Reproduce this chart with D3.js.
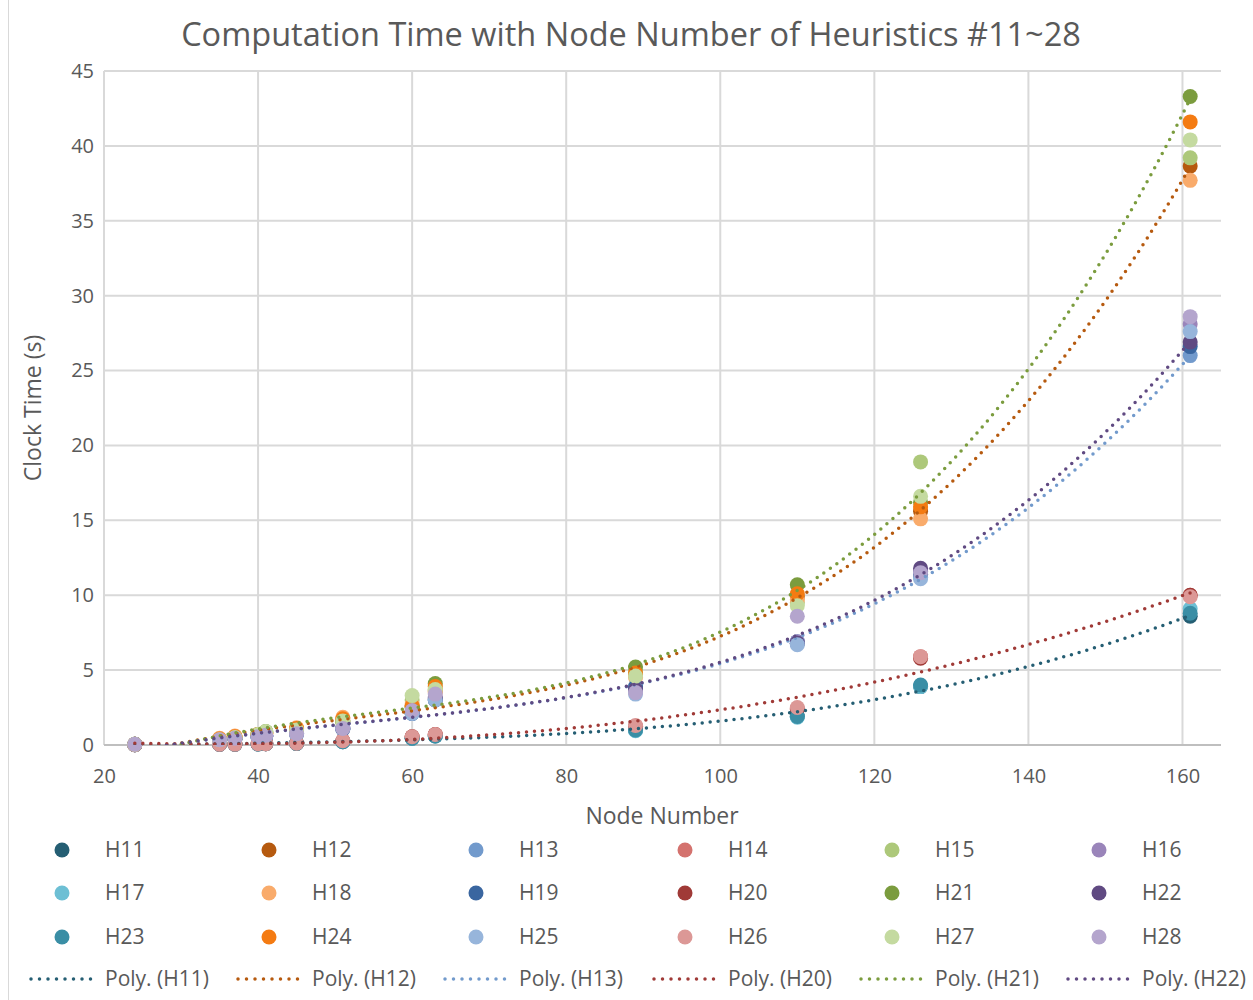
<!DOCTYPE html>
<html><head><meta charset="utf-8">
<script src="https://cdn.jsdelivr.net/npm/d3@7"></script>
<style>body{margin:0;background:#fff}svg{display:block}text{font-family:"Open Sans",sans-serif;fill:#595959}</style>
</head><body><svg id="c" width="1253" height="1000"></svg>
<script>
const nodeNumbers = [24, 35, 37, 40, 41, 45, 51, 60, 63, 89, 110, 126, 161];
const seriesNames = ["H11","H12","H13","H14","H15","H16","H17","H18","H19","H20","H21","H22","H23","H24","H25","H26","H27","H28"];
const H11 = [0.02, 0.05, 0.06, 0.07, 0.08, 0.1, 0.22, 0.45, 0.6, 1.0, 1.9, 3.9, 8.6];
const H12 = [0.05, 0.35, 0.5, 0.65, 0.75, 1.0, 1.6, 2.6, 3.6, 4.7, 9.9, 15.6, 38.65];
const H13 = [0.05, 0.3, 0.45, 0.5, 0.6, 0.75, 1.1, 2.1, 3.0, 3.8, 6.9, 11.2, 26.0];
const H14 = [0.02, 0.05, 0.06, 0.08, 0.09, 0.12, 0.28, 0.55, 0.7, 1.25, 2.4, 5.9, 10.0];
const H15 = [0.05, 0.3, 0.5, 0.7, 0.85, 1.0, 1.5, 3.0, 3.7, 4.9, 9.5, 18.9, 39.2];
const H16 = [0.05, 0.3, 0.45, 0.55, 0.6, 0.8, 1.1, 2.2, 3.2, 3.6, 6.9, 11.6, 28.1];
const H17 = [0.02, 0.05, 0.06, 0.07, 0.08, 0.1, 0.22, 0.45, 0.6, 0.95, 1.85, 3.9, 9.1];
const H18 = [0.05, 0.45, 0.6, 0.7, 0.8, 1.15, 1.85, 2.7, 3.5, 4.5, 9.7, 15.1, 37.7];
const H19 = [0.05, 0.3, 0.4, 0.5, 0.6, 0.75, 1.05, 2.1, 3.0, 3.9, 6.8, 11.4, 26.6];
const H20 = [0.02, 0.05, 0.06, 0.08, 0.09, 0.12, 0.27, 0.55, 0.7, 1.25, 2.4, 5.8, 10.0];
const H21 = [0.05, 0.3, 0.45, 0.7, 0.9, 1.0, 1.6, 2.5, 4.1, 5.2, 10.7, 16.2, 43.3];
const H22 = [0.05, 0.3, 0.45, 0.55, 0.6, 0.8, 1.1, 2.2, 3.1, 3.7, 6.8, 11.8, 26.9];
const H23 = [0.02, 0.05, 0.06, 0.07, 0.08, 0.1, 0.22, 0.45, 0.6, 1.0, 1.9, 4.0, 8.8];
const H24 = [0.05, 0.4, 0.55, 0.7, 0.8, 1.1, 1.75, 2.6, 3.9, 4.8, 10.1, 15.9, 41.6];
const H25 = [0.05, 0.3, 0.45, 0.5, 0.6, 0.75, 1.1, 2.1, 3.0, 3.4, 6.7, 11.1, 27.6];
const H26 = [0.02, 0.05, 0.06, 0.08, 0.09, 0.12, 0.28, 0.55, 0.7, 1.3, 2.5, 5.9, 9.9];
const H27 = [0.05, 0.35, 0.5, 0.7, 0.9, 1.0, 1.6, 3.3, 3.7, 4.6, 9.3, 16.6, 40.4];
const H28 = [0.05, 0.35, 0.45, 0.55, 0.65, 0.75, 1.1, 2.3, 3.4, 3.5, 8.6, 11.5, 28.6];
const seriesValues = [H11,H12,H13,H14,H15,H16,H17,H18,H19,H20,H21,H22,H23,H24,H25,H26,H27,H28];
const seriesColors = ["#255E73","#B65A0F","#729ACC","#D4726E","#ADC87A","#9A85BA","#6DBFD4","#F9AB6B","#3A66A0","#A03A37","#7B9C3E","#604A82","#3A8EA5","#F47B12","#97B5DB","#DC9896","#C4DAA0","#B4A5CD"];
const trendSeries = ["H11","H12","H13","H20","H21","H22"];
const trendOrder = 3;
const xTicks = [20, 40, 60, 80, 100, 120, 140, 160];
const yTicks = [0, 5, 10, 15, 20, 25, 30, 35, 40, 45];
const titleText = "Computation Time with Node Number of Heuristics #11~28";
const xTitle = "Node Number", yTitle = "Clock Time (s)";

const svg = d3.select("#c");
svg.append("rect").attr("width",1253).attr("height",1000).attr("fill","#fff");
svg.append("line").attr("x1",8.5).attr("x2",8.5).attr("y1",0).attr("y2",1000).attr("stroke","#D9D9D9");

const L = 104, R = 1221, T = 71, B = 745;
const x = d3.scaleLinear().domain([20,165]).range([L,R]);
const y = d3.scaleLinear().domain([0,45]).range([B,T]);

svg.append("g").selectAll("line").data(yTicks.filter(v=>v>0)).join("line")
  .attr("x1",L).attr("x2",R).attr("y1",d=>y(d)).attr("y2",d=>y(d)).attr("stroke","#D9D9D9").attr("stroke-width",2);
svg.append("g").selectAll("line").data(xTicks).join("line")
  .attr("x1",d=>x(d)).attr("x2",d=>x(d)).attr("y1",T).attr("y2",B).attr("stroke","#D9D9D9").attr("stroke-width",2);
svg.append("line").attr("x1",L).attr("x2",R).attr("y1",B).attr("y2",B).attr("stroke","#BFBFBF").attr("stroke-width",2);

const xAxis = svg.append("g").attr("transform",`translate(0,${B})`).call(d3.axisBottom(x).tickValues(xTicks).tickSize(0).tickPadding(24));
xAxis.select(".domain").remove();
xAxis.selectAll("text").style("font-size","20px").style("font-family","'Open Sans',sans-serif").attr("fill","#595959");
const yAxis = svg.append("g").attr("transform",`translate(${L},0)`).call(d3.axisLeft(y).tickValues(yTicks).tickSize(0).tickPadding(10));
yAxis.select(".domain").remove();
yAxis.selectAll("text").style("font-size","20px").style("font-family","'Open Sans',sans-serif").attr("fill","#595959");

svg.append("text").attr("x",631).attr("y",46).attr("text-anchor","middle").style("font-size","32.5px").text(titleText);
svg.append("text").attr("x",662).attr("y",824).attr("text-anchor","middle").style("font-size","23px").text(xTitle);
svg.append("text").attr("transform","translate(41,408) rotate(-90)").attr("text-anchor","middle").style("font-size","23px").text(yTitle);

svg.append("defs").append("clipPath").attr("id","pa").append("rect").attr("x",L).attr("y",T).attr("width",R-L).attr("height",B-T);

seriesNames.forEach((name,i)=>{
  svg.append("g").selectAll("circle").data(nodeNumbers.map((n,j)=>[n,seriesValues[i][j]])).join("circle")
    .attr("cx",d=>x(d[0])).attr("cy",d=>y(d[1])).attr("r",7.5).attr("fill",seriesColors[i]);
});

function polyfit(xs, ys, order){
  const n = order+1, c = 90, s = 70;
  const A = Array.from({length:n},()=>new Array(n+1).fill(0));
  xs.forEach((xv,k)=>{
    const t=(xv-c)/s; const p=[]; for(let i=0;i<n;i++) p.push(Math.pow(t,i));
    for(let i=0;i<n;i++){ for(let j=0;j<n;j++) A[i][j]+=p[i]*p[j]; A[i][n]+=p[i]*ys[k]; }
  });
  for(let i=0;i<n;i++){
    let m=i; for(let r=i+1;r<n;r++) if(Math.abs(A[r][i])>Math.abs(A[m][i])) m=r;
    [A[i],A[m]]=[A[m],A[i]];
    for(let r=0;r<n;r++){ if(r===i) continue; const f=A[r][i]/A[i][i]; for(let k=i;k<=n;k++) A[r][k]-=f*A[i][k]; }
  }
  const coef=A.map((row,i)=>row[n]/row[i]);
  return xv=>{const t=(xv-c)/s; let v=0; for(let i=n-1;i>=0;i--) v=v*t+coef[i]; return v;};
}
const line = d3.line().x(d=>x(d[0])).y(d=>y(d[1]));
const xMin = d3.min(nodeNumbers), xMax = d3.max(nodeNumbers);
const gT = svg.append("g").attr("clip-path","url(#pa)");
trendSeries.forEach(name=>{
  const i = seriesNames.indexOf(name);
  const f = polyfit(nodeNumbers, seriesValues[i], trendOrder);
  const pts = d3.range(xMin, xMax+0.01, 0.5).map(v=>[v,f(v)]);
  gT.append("path").attr("d",line(pts)).attr("fill","none").attr("stroke",seriesColors[i])
    .attr("stroke-width",3.5).attr("stroke-dasharray","0 8").attr("stroke-linecap","round");
});

const colX = [62, 269, 476, 685, 892, 1099];
const rowY = [850, 893, 937];
seriesNames.forEach((name,i)=>{
  const cxp = colX[i%6], cyp = rowY[Math.floor(i/6)];
  svg.append("circle").attr("cx",cxp).attr("cy",cyp).attr("r",7.5).attr("fill",seriesColors[i]);
  svg.append("text").attr("x",cxp+43).attr("y",cyp+7).style("font-size","21px").text(name);
});
trendSeries.forEach((name,k)=>{
  const i = seriesNames.indexOf(name);
  const x0 = colX[k]-31;
  svg.append("line").attr("x1",x0).attr("x2",x0+68).attr("y1",979).attr("y2",979).attr("stroke",seriesColors[i])
    .attr("stroke-width",3.5).attr("stroke-dasharray","0 8.5").attr("stroke-linecap","round");
  svg.append("text").attr("x",colX[k]+43).attr("y",986).style("font-size","21px").text(`Poly. (${name})`);
});
</script></body></html>
